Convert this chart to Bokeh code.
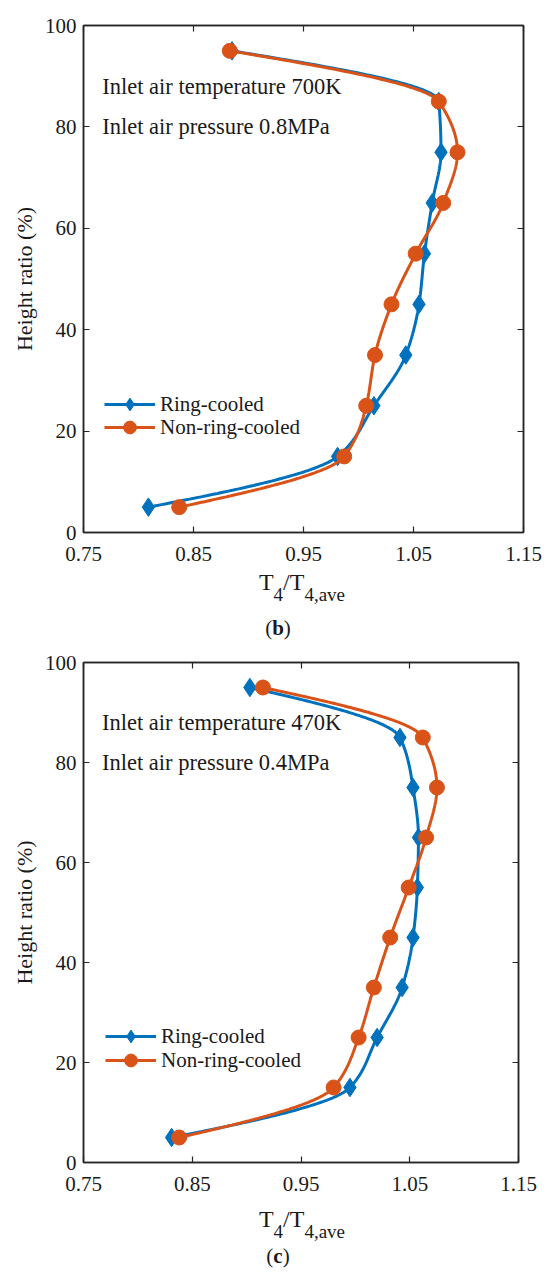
import numpy as np
from bokeh.plotting import figure
from bokeh.models import LinearAxis, FixedTicker, Label, Range1d, Div, Legend, LegendItem
from bokeh.layouts import column
from bokeh.embed import file_html
from bokeh.resources import INLINE

# ---------------- data ----------------
height = [5, 15, 25, 35, 45, 55, 65, 75, 85, 95]

b_ring = [0.809, 0.981, 1.014, 1.043, 1.055, 1.060, 1.067, 1.075, 1.073, 0.885]
b_non = [0.837, 0.987, 1.007, 1.015, 1.030, 1.052, 1.077, 1.090, 1.073, 0.883]

c_ring = [0.831, 0.995, 1.020, 1.043, 1.053, 1.057, 1.058, 1.053, 1.041, 0.903]
c_non = [0.838, 0.980, 1.003, 1.017, 1.032, 1.049, 1.065, 1.075, 1.062, 0.915]

series_names = ["Ring-cooled", "Non-ring-cooled"]
x_ticks = [0.75, 0.85, 0.95, 1.05, 1.15]
y_ticks = [0, 20, 40, 60, 80, 100]
b_notes = ["Inlet air temperature 700K", "Inlet air pressure 0.8MPa"]
c_notes = ["Inlet air temperature 470K", "Inlet air pressure 0.4MPa"]
captions = ["b", "c"]

BLUE = "#0072BD"
ORANGE = "#D95319"
FONT = "'Liberation Serif', 'Times New Roman', serif"
TXT = "#1a1a1a"
AX = "#262626"


def pchip(t, v, tt):
    """Shape-preserving piecewise cubic (Fritsch-Carlson) for drawing a smooth line."""
    t = np.asarray(t, float)
    v = np.asarray(v, float)
    n = len(t)
    h = np.diff(t)
    delta = np.diff(v) / h
    d = np.zeros(n)
    for k in range(1, n - 1):
        if delta[k - 1] * delta[k] > 0:
            w1 = 2 * h[k] + h[k - 1]
            w2 = h[k] + 2 * h[k - 1]
            d[k] = (w1 + w2) / (w1 / delta[k - 1] + w2 / delta[k])
        else:
            d[k] = 0.0

    def end(h0, h1, d0, d1):
        s = ((2 * h0 + h1) * d0 - h0 * d1) / (h0 + h1)
        if np.sign(s) != np.sign(d0):
            s = 0.0
        elif np.sign(d0) != np.sign(d1) and abs(s) > abs(3 * d0):
            s = 3 * d0
        return s

    d[0] = end(h[0], h[1], delta[0], delta[1])
    d[-1] = end(h[-1], h[-2], delta[-1], delta[-2])
    idx = np.clip(np.searchsorted(t, tt, side="right") - 1, 0, n - 2)
    hk = h[idx]
    s = (tt - t[idx]) / hk
    h00 = 2 * s ** 3 - 3 * s ** 2 + 1
    h10 = s ** 3 - 2 * s ** 2 + s
    h01 = -2 * s ** 3 + 3 * s ** 2
    h11 = s ** 3 - s ** 2
    return h00 * v[idx] + h10 * hk * d[idx] + h01 * v[idx + 1] + h11 * hk * d[idx + 1]


def style_axis(ax):
    ax.major_tick_in = 6
    ax.major_tick_out = 0
    ax.minor_tick_line_color = None
    ax.axis_line_color = AX
    ax.axis_line_width = 1.5
    ax.major_tick_line_color = AX
    ax.major_tick_line_width = 1.2


def make_legend(items, loc):
    lg = Legend(items=items, location=loc)
    lg.background_fill_alpha = 0
    lg.border_line_color = None
    lg.padding = 0
    lg.margin = 0
    lg.spacing = 0
    lg.glyph_width = 51
    lg.glyph_height = 32
    lg.label_height = 32
    lg.label_standoff = 5
    lg.label_text_font = FONT
    lg.label_text_font_size = "21px"
    lg.label_text_color = TXT
    return lg


def make_panel(ring, non, notes, frame_w, frame_h, b_left, b_top, b_bottom, b_right, leg_locs):
    p = figure(frame_width=frame_w, frame_height=frame_h,
               min_border_left=b_left, min_border_top=b_top,
               min_border_bottom=b_bottom, min_border_right=b_right,
               x_range=Range1d(0.75, 1.15), y_range=Range1d(0, 100),
               output_backend="svg", toolbar_location=None,
               background_fill_color="white", border_fill_color="white")
    p.grid.visible = False
    p.outline_line_color = AX
    p.outline_line_width = 1.5

    tt = np.linspace(height[0], height[-1], 400)
    l1 = p.line(pchip(height, ring, tt), tt, line_color=BLUE, line_width=3)
    s1 = p.scatter(ring, height, marker="diamond", size=18.5, fill_color=BLUE, line_color=BLUE)
    l2 = p.line(pchip(height, non, tt), tt, line_color=ORANGE, line_width=3)
    s2 = p.scatter(non, height, marker="circle", size=15, fill_color=ORANGE, line_color=ORANGE)

    for ax in p.xaxis:
        ax.ticker = FixedTicker(ticks=x_ticks)
        ax.major_label_overrides = {t: f"{t:.2f}" for t in x_ticks}
        ax.major_label_standoff = 14
    for ax in p.yaxis:
        ax.ticker = FixedTicker(ticks=y_ticks)
        ax.axis_label = "Height ratio (%)"
        ax.axis_label_text_font = FONT
        ax.axis_label_text_font_size = "22px"
        ax.axis_label_text_font_style = "normal"
        ax.axis_label_text_color = TXT
        ax.axis_label_standoff = 5
        ax.major_label_standoff = 7
    for ax in p.axis:
        style_axis(ax)
        ax.major_label_text_font = FONT
        ax.major_label_text_font_size = "21px"
        ax.major_label_text_color = TXT

    top = LinearAxis(ticker=FixedTicker(ticks=x_ticks))
    right = LinearAxis(ticker=FixedTicker(ticks=y_ticks))
    for ax in (top, right):
        style_axis(ax)
        ax.major_label_text_font_size = "1px"
        ax.major_label_text_color = None
        ax.major_label_standoff = 0
    p.add_layout(top, "above")
    p.add_layout(right, "right")

    for txt, yy in zip(notes, [88, 80]):
        p.add_layout(Label(x=0.767, y=yy, text=txt, text_font=FONT,
                           text_font_size="22.5px", text_color=TXT,
                           text_baseline="alphabetic", text_align="left"))

    p.add_layout(make_legend([LegendItem(label=series_names[0], renderers=[l1, s1])], leg_locs[0]))
    p.add_layout(make_legend([LegendItem(label=series_names[1], renderers=[l2, s2])], leg_locs[1]))
    return p


def caption_div(cap, h, title_top, cap_top):
    html = (
        f'<div style="position:relative;width:550px;height:{h}px;'
        f'font-family:{FONT};color:{TXT};">'
        f'<div style="position:absolute;left:202px;top:{title_top}px;width:200px;'
        f'text-align:center;font-size:24px;line-height:24px;white-space:nowrap;">'
        f'T<span style="font-size:19px;position:relative;top:11px;">4</span>/T'
        f'<span style="font-size:19px;position:relative;top:11px;">4,ave</span></div>'
        f'<div style="position:absolute;left:178px;top:{cap_top}px;width:200px;'
        f'text-align:center;font-size:21px;line-height:21px;">(<b>{cap}</b>)</div>'
        f'</div>'
    )
    return Div(text=html, width=550, height=h, margin=0)


p1 = make_panel(b_ring, b_non, b_notes, 440, 507, 81, 25, 40, 29, [(21, 112), (21, 89)])
d1 = caption_div(captions[0], 71, -2, 46)
p2 = make_panel(c_ring, c_non, c_notes, 435, 500, 83, 19, 40, 32, [(22, 110), (22, 86)])
d2 = caption_div(captions[1], 80, 5, 44)

layout = column(p1, d1, p2, d2, spacing=0)
open("out.html", "w").write(file_html(layout, INLINE))
